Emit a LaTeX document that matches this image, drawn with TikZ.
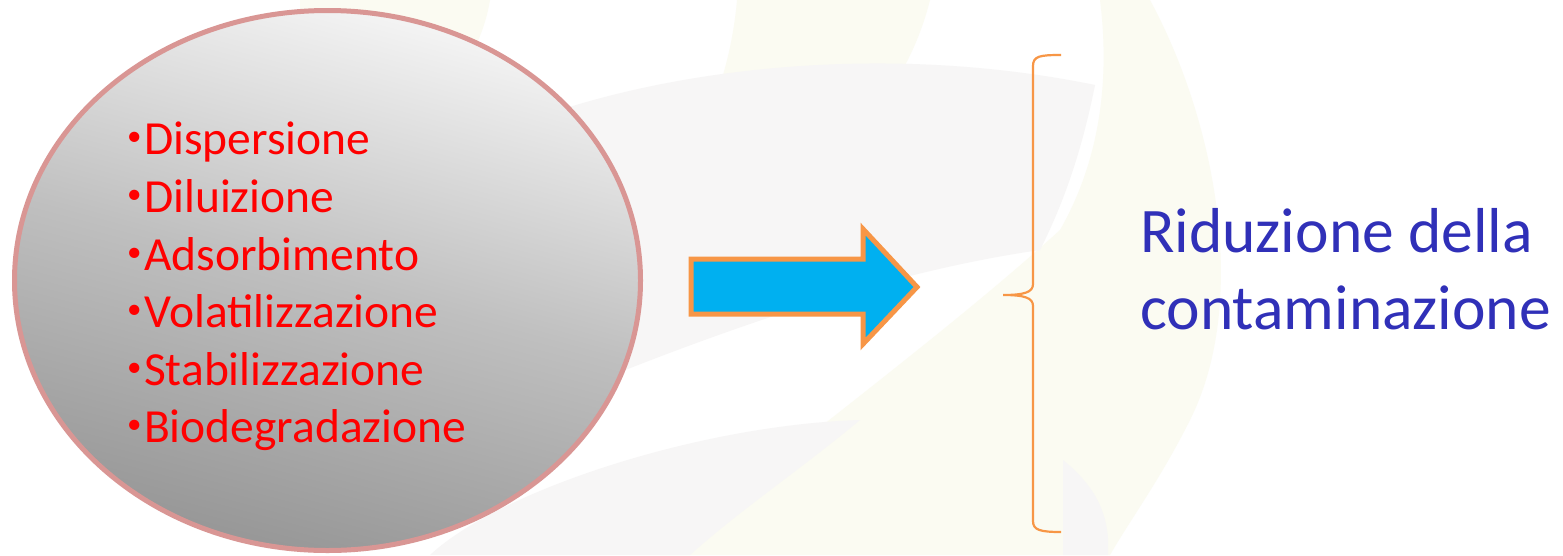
\documentclass[tikz,border=0pt]{standalone}
\usepackage{fontspec}
\setmainfont{Carlito}
\definecolor{bgcream}{HTML}{FBFBF2}
\definecolor{bggray}{HTML}{F7F6F6}
\definecolor{rimpink}{HTML}{D99694}
\definecolor{orangeline}{HTML}{F79646}
\definecolor{arrowblue}{HTML}{00B0F0}
\definecolor{itemred}{HTML}{FF0000}
\definecolor{resultblue}{HTML}{3030B8}
\newcommand{\smallbul}{\raisebox{0.18em}{\fontsize{29}{29}\selectfont •}\hspace{2.5pt}}
\tikzset{
  item/.style={anchor=base west, inner sep=0pt, text=itemred,
    font=\fontsize{47.5}{56}\selectfont},
  result/.style={anchor=base west, inner sep=0pt, text=resultblue,
    font=\fontsize{63.5}{76}\selectfont},
  bandcream/.style={fill=bgcream, draw=none},
  bandgray/.style={fill=bggray, draw=none},
}
\begin{document}
\begin{tikzpicture}[x=1pt,y=-1pt]
\useasboundingbox (0,0) rectangle (1563,555);
\fill[white] (0,0) rectangle (1563,555);

% faint background swirls
\fill[bandcream] (300,0) -- (490,0) .. controls (480,60) and (440,110) .. (380,140) -- (300,140) -- cycle;
\fill[bandcream] (737,0) -- (930,0) .. controls (900,120) and (800,200) .. (650,300) -- (640,250) .. controls (700,150) and (730,80) .. cycle;
\fill[bandcream] (660,555) .. controls (800,440) and (950,330) .. (1060,230)
  .. controls (1100,160) and (1110,80) .. (1100,0) -- (1150,0)
  .. controls (1215,120) and (1250,300) .. (1190,420)
  .. controls (1160,480) and (1130,520) .. (1110,555) -- cycle;
\fill[bandgray] (560,110) .. controls (700,65) and (900,45) .. (1095,85)
  .. controls (1080,160) and (1060,210) .. (1040,250)
  .. controls (900,270) and (750,320) .. (600,380) -- cycle;
\fill[bandgray] (430,555) .. controls (500,490) and (700,425) .. (860,420)
  .. controls (800,470) and (740,510) .. (690,555) -- cycle;
\fill[bandgray] (1063,460) .. controls (1100,490) and (1110,520) .. (1108,555) -- (1063,555) -- cycle;

% shaded ellipse with the processes
\draw[line width=5pt, draw=rimpink, top color=black!4, bottom color=black!41,
  middle color=black!25, shading angle=-15]
  (327.5,280.5) ellipse [x radius=313, y radius=270];

\node[item] (dis) at (127,154) {\smallbul Dispersione};
\node[item] (dil) at (127,212.5) {\smallbul Diluizione};
\node[item] (ads) at (127,270.5) {\smallbul Adsorbimento};
\node[item] (vol) at (127,327.5) {\smallbul Volatilizzazione};
\node[item] (sta) at (127,385) {\smallbul Stabilizzazione};
\node[item] (bio) at (127,442.5) {\smallbul Biodegradazione};

% block arrow
\draw[line width=5pt, draw=orangeline, fill=arrowblue, line join=miter]
  (691,259) -- (863,259) -- (863,229) -- (917,287) -- (863,344) -- (863,314) -- (691,314) -- cycle;

% brace
\draw[line width=2.2pt, draw=orangeline]
  (1061,55) .. controls (1040,55) and (1033,56) .. (1033,66) -- (1033,284)
  .. controls (1033,292) and (1025,295) .. (1003,295)
  .. controls (1025,295) and (1033,298) .. (1033,306) -- (1033,521)
  .. controls (1033,530) and (1040,532) .. (1061,532);

\node[result] (r1) at (1140,252) {Riduzione della};
\node[result] (r2) at (1140,329) {contaminazione};
\end{tikzpicture}
\end{document}
